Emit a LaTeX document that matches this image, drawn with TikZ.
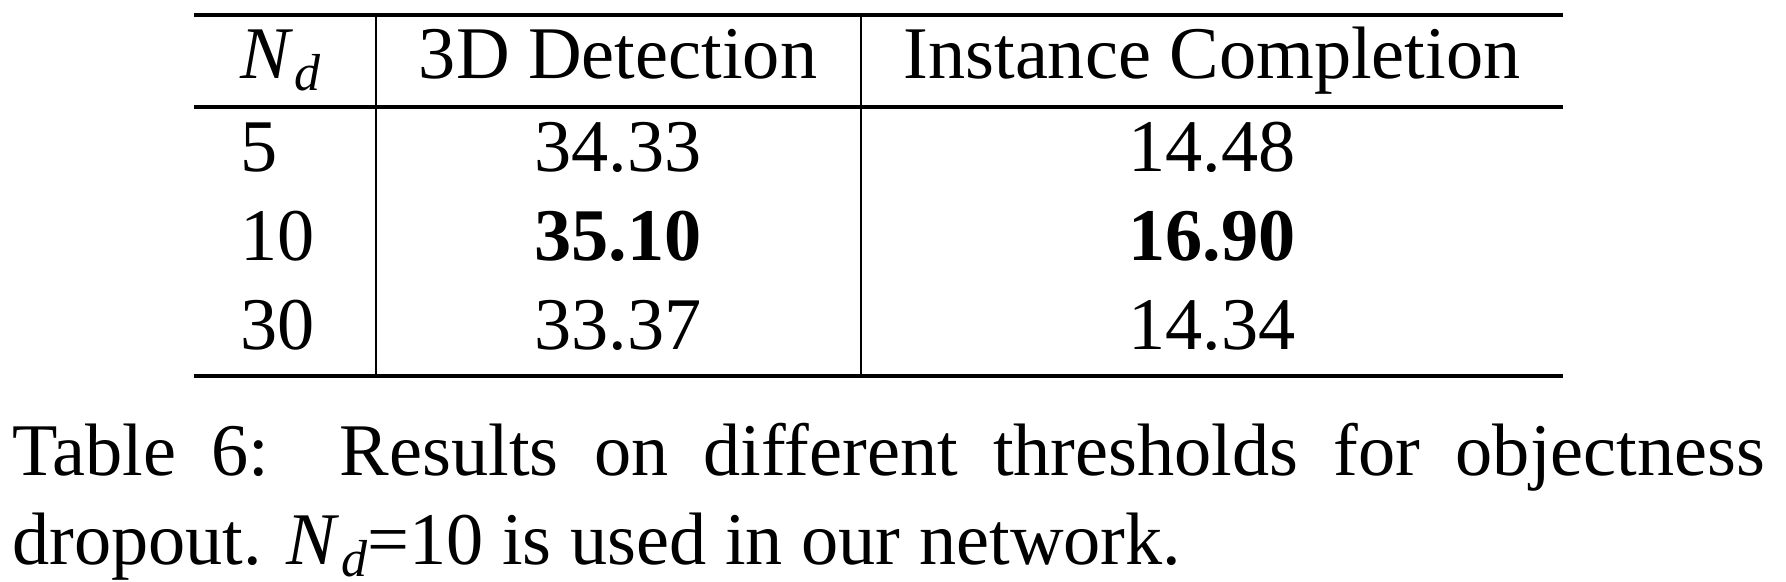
\documentclass[tikz,border=0pt]{standalone}
\usepackage{fontspec}
\setmainfont{Liberation Serif}
\newcommand{\Nd}{\textit{N}\kern0.02em\raisebox{-1.5pt}{\fontsize{7}{8}\selectfont\textit{d}}}
\begin{document}
\begin{tikzpicture}[x=0.1346pt,y=-0.1346pt,
  cell/.style={anchor=base,inner sep=0pt,font=\fontsize{10}{12}\selectfont},
  lcell/.style={anchor=base west,inner sep=0pt,font=\fontsize{10}{12}\selectfont},
  rulel/.style={line width=0.42pt},
  vrule/.style={line width=0.36pt}]
\useasboundingbox (0,0) rectangle (1786,582);
% rules
\coordinate (tl) at (194,15); \coordinate (tr) at (1563,15);
\coordinate (ml) at (194,107); \coordinate (mr) at (1563,107);
\coordinate (bl) at (194,376); \coordinate (br) at (1563,376);
\coordinate (v1t) at (376,15); \coordinate (v1b) at (376,376);
\coordinate (v2t) at (861,15); \coordinate (v2b) at (861,376);
\draw[rulel] (tl) -- (tr);
\draw[rulel] (ml) -- (mr);
\draw[rulel] (bl) -- (br);
\draw[vrule] (v1t) -- (v1b);
\draw[vrule] (v2t) -- (v2b);
% header
\node[lcell] (h1) at (239,79) {\Nd};
\node[cell] (h2) at (618,79) {3D Detection};
\node[cell] (h3) at (1212,79) {Instance Completion};
% rows
\node[lcell] (r1a) at (239,172) {5};
\node[cell] (r1b) at (618,172) {34.33};
\node[cell] (r1c) at (1212,172) {14.48};
\node[lcell] (r2a) at (239,261) {10};
\node[cell] (r2b) at (618,261) {\bfseries 35.10};
\node[cell] (r2c) at (1212,261) {\bfseries 16.90};
\node[lcell] (r3a) at (239,350) {30};
\node[cell] (r3b) at (618,350) {33.37};
\node[cell] (r3c) at (1212,350) {14.34};
% caption
\node[lcell] (cap1) at (11,476) {\makebox[235.9pt][s]{Table 6:\ \ Results on different thresholds for objectness}};
\node[lcell] (cap2) at (11,565) {dropout. \Nd=10 is used in our network.};
\end{tikzpicture}
\end{document}
